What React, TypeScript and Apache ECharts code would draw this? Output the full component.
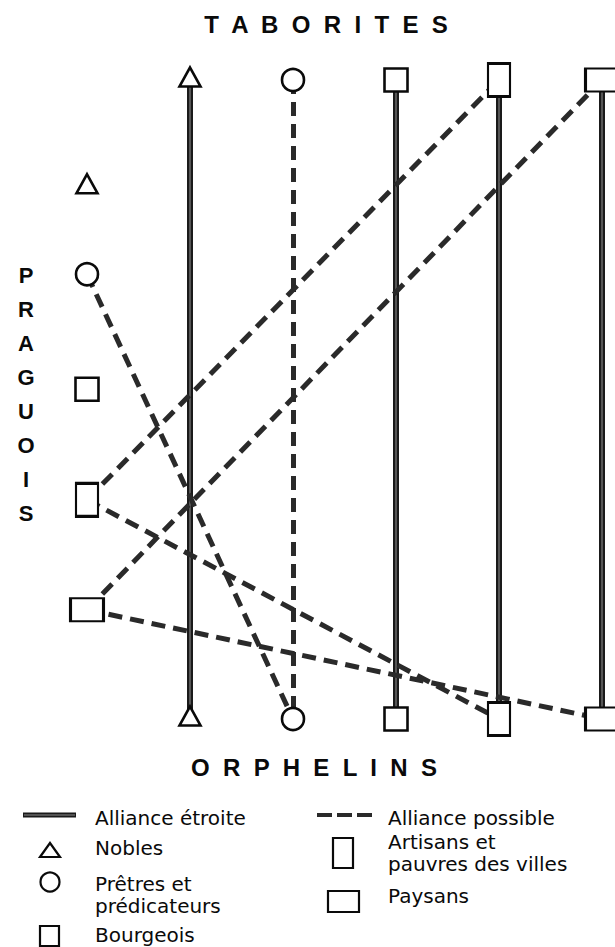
import React, { useEffect, useRef } from "react";
import * as echarts from "echarts";

// ---- data ----
const groupLabels = ["T  A  B  O  R  I  T  E  S", "O  R  P  H  E  L  I  N  S", "P\nR\nA\nG\nU\nO\nI\nS"];
const classNames = ["Nobles", "Prêtres et prédicateurs", "Bourgeois", "Artisans et pauvres des villes", "Paysans"];
const classLegendLabels = ["Nobles", "Prêtres et\nprédicateurs", "Bourgeois", "Artisans et\npauvres des villes", "Paysans"];
const allianceLabels = ["Alliance étroite", "Alliance possible"];
// column of each class in the Taborites (top) and Orphelins (bottom) rows
const classColumns = [1, 2, 3, 4, 5];
// Praguois column (x = 0): position of each class along the vertical
const praguoisRank = [1.67, 3.04, 4.84, 6.57, 8.29];
const TABORITES_ROW = 0;
const ORPHELINS_ROW = 10;
// strict alliances: Taborites class i <-> Orphelins class i
const strictAlliances = [0, 2, 3, 4];
// possible alliances: [group, class, group, class]
const possibleAlliances: [string, number, string, number][] = [
  ["T", 1, "O", 1],
  ["P", 1, "O", 1],
  ["P", 3, "T", 3],
  ["P", 3, "O", 3],
  ["P", 4, "T", 4],
  ["P", 4, "O", 4],
];

// ---- styles ----
const symbolShapes = ["triangle", "circle", "rect", "rect", "rect"];
const symbolSizes = [[21, 19], [22, 22], [23, 23], [22, 33], [33, 23]];
const symbolOffsets = [[0, -3], [0, 0], [0, 0], [0, 0], [0, 0]];
const INK = "#0a0a0a";
const titleFont = "bold 24px 'Liberation Sans', Arial, sans-serif";
const sideFont = "bold 22px 'Liberation Sans', Arial, sans-serif";
const legendFont = "20px 'DejaVu Sans', sans-serif";

function pt(group: string, cls: number): [number, number] {
  if (group === "T") return [classColumns[cls], TABORITES_ROW];
  if (group === "O") return [classColumns[cls], ORPHELINS_ROW];
  return [0, praguoisRank[cls]];
}

export default function App() {
  const ref = useRef<HTMLDivElement>(null);
  useEffect(() => {
    if (!ref.current) return;
    const chart = echarts.init(ref.current, undefined, { renderer: "svg" });

    const strictCoords = strictAlliances.map((c) => ({ coords: [pt("T", c), pt("O", c)] }));
    const possibleCoords = possibleAlliances.map(([g1, c1, g2, c2]) => ({ coords: [pt(g1, c1), pt(g2, c2)] }));

    const scatterSeries = classNames.map((name, i) => ({
      type: "scatter",
      name,
      z: 10,
      clip: false,
      symbol: symbolShapes[i],
      symbolSize: symbolSizes[i],
      symbolOffset: symbolOffsets[i],
      itemStyle: { color: "#fff", borderColor: INK, borderWidth: 2.6, opacity: 1 },
      data: [pt("T", i), pt("O", i), pt("P", i)],
    }));

    const legendTextStyle = (text: string, x: number, y: number) => ({
      type: "text",
      style: { text, x, y, font: legendFont, fill: INK, textAlign: "left", textVerticalAlign: "middle", lineHeight: 22 },
    });

    chart.setOption({
      animation: false,
      backgroundColor: "#fff",
      grid: { left: 87, top: 80, width: 515, height: 639, containLabel: false },
      xAxis: { type: "value", min: 0, max: 5, show: false },
      yAxis: { type: "value", min: 0, max: 10, inverse: true, show: false },
      series: [
        {
          type: "lines",
          coordinateSystem: "cartesian2d",
          name: allianceLabels[0],
          z: 2,
          silent: true,
          lineStyle: { color: "#1a1a1a", width: 6, opacity: 1, curveness: 0 },
          data: strictCoords,
        },
        {
          type: "lines",
          coordinateSystem: "cartesian2d",
          z: 3,
          silent: true,
          lineStyle: { color: "#666", width: 1.6, opacity: 1, curveness: 0 },
          data: strictCoords,
        },
        {
          type: "lines",
          coordinateSystem: "cartesian2d",
          name: allianceLabels[1],
          z: 4,
          silent: true,
          lineStyle: { color: "#2a2a2a", width: 5, opacity: 1, type: [14, 8], curveness: 0 },
          data: possibleCoords,
        },
        ...scatterSeries,
      ],
      graphic: [
        { type: "text", style: { text: groupLabels[0], x: 326, y: 24, font: titleFont, fill: INK, textAlign: "center", textVerticalAlign: "middle" } },
        { type: "text", style: { text: groupLabels[1], x: 314, y: 767, font: titleFont, fill: INK, textAlign: "center", textVerticalAlign: "middle" } },
        { type: "text", style: { text: groupLabels[2], x: 26, y: 394, font: sideFont, fill: INK, textAlign: "center", textVerticalAlign: "middle", lineHeight: 34 } },
        // legend: left column
        { type: "line", shape: { x1: 23, y1: 815, x2: 76, y2: 815 }, style: { stroke: "#1a1a1a", lineWidth: 5 } },
        { type: "line", shape: { x1: 24, y1: 815, x2: 75, y2: 815 }, style: { stroke: "#666", lineWidth: 1.5 } },
        legendTextStyle(allianceLabels[0], 95, 818),
        { type: "polygon", shape: { points: [[40, 857], [50, 843], [60, 857]] }, style: { fill: "#fff", stroke: INK, lineWidth: 2.2 } },
        legendTextStyle(classLegendLabels[0], 95, 848),
        { type: "circle", shape: { cx: 50, cy: 882, r: 9.5 }, style: { fill: "#fff", stroke: INK, lineWidth: 2.2 } },
        legendTextStyle(classLegendLabels[1], 95, 895),
        { type: "rect", shape: { x: 40, y: 926, width: 19, height: 20 }, style: { fill: "#fff", stroke: INK, lineWidth: 2.2 } },
        legendTextStyle(classLegendLabels[2], 95, 935),
        // legend: right column
        { type: "line", shape: { x1: 317, y1: 815, x2: 372, y2: 815 }, style: { stroke: "#2a2a2a", lineWidth: 4, lineDash: [15, 5] } },
        legendTextStyle(allianceLabels[1], 388, 818),
        { type: "rect", shape: { x: 333, y: 838, width: 20, height: 30 }, style: { fill: "#fff", stroke: INK, lineWidth: 2.2 } },
        legendTextStyle(classLegendLabels[3], 388, 853),
        { type: "rect", shape: { x: 328, y: 891, width: 31, height: 21 }, style: { fill: "#fff", stroke: INK, lineWidth: 2.2 } },
        legendTextStyle(classLegendLabels[4], 388, 896),
      ],
    });
    return () => chart.dispose();
  }, []);
  return <div ref={ref} style={{ position: "absolute", left: 0, top: 0, width: 615, height: 947 }} />;
}
